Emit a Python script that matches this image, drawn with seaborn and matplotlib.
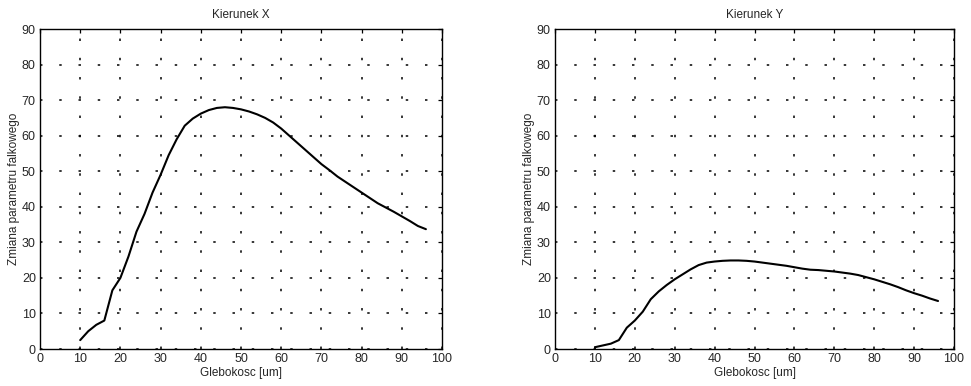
import matplotlib
matplotlib.use("Agg")
import matplotlib.pyplot as plt
import seaborn as sns
import pandas as pd

depth = [10, 12, 14, 16, 18, 20, 22, 24, 26, 28, 30, 32, 34, 36, 38, 40, 42, 44, 46, 48,
         50, 52, 54, 56, 58, 60, 62, 64, 66, 68, 70, 72, 74, 76, 78, 80, 82, 84, 86, 88,
         90, 92, 94, 96]
change_x = [2.5, 5.0, 6.8, 8.0, 16.5, 20.0, 26.0, 33.0, 38.0, 44.0, 49.0, 54.5, 59.0, 62.8, 64.8,
            66.2, 67.2, 67.8, 68.0, 67.8, 67.4, 66.8, 66.0, 65.0, 63.7, 62.0, 60.0, 58.0, 56.0, 54.0,
            52.0, 50.3, 48.5, 47.0, 45.5, 44.0, 42.5, 41.0, 39.8, 38.6, 37.3, 36.0, 34.6, 33.7]
change_y = [0.5, 1.0, 1.5, 2.5, 6.0, 8.0, 10.5, 14.0, 16.2, 18.0, 19.6, 21.0, 22.4, 23.6, 24.3,
            24.6, 24.8, 24.9, 24.9, 24.8, 24.6, 24.3, 24.0, 23.7, 23.4, 23.0, 22.6, 22.3, 22.2, 22.0,
            21.8, 21.5, 21.2, 20.8, 20.2, 19.6, 18.9, 18.2, 17.4, 16.5, 15.7, 15.0, 14.2, 13.5]
titles = ["Kierunek X", "Kierunek Y"]
xlabel = "Glebokosc [um]"
ylabel = "Zmiana parametru falkowego"
xticks = list(range(0, 101, 10))
yticks = list(range(0, 91, 10))

sns.set_theme(style="white")
plt.rcParams["font.family"] = ["Liberation Sans", "DejaVu Sans"]

fig = plt.figure(figsize=(9.71, 3.86), dpi=100)
positions = [[40 / 971, 1 - 349 / 386, 402 / 971, 320 / 386],
             [555 / 971, 1 - 349 / 386, 399 / 971, 320 / 386]]

for pos, title, vals in zip(positions, titles, [change_x, change_y]):
    ax = fig.add_axes(pos)
    df = pd.DataFrame({"depth": depth, "val": vals})
    sns.lineplot(data=df, x="depth", y="val", ax=ax, color="black", linewidth=1.5)
    ax.set_xlim(0, 100)
    ax.set_ylim(0, 90)
    ax.set_xticks(xticks)
    ax.set_yticks(yticks)
    ax.grid(True, color="black", linestyle=(0, (1.6, 11)), linewidth=1.1)
    ax.tick_params(direction="in", length=3, top=True, right=True, labelsize=9,
                   color="black", pad=3, width=0.9)
    for s in ax.spines.values():
        s.set_color("black")
        s.set_linewidth(1.0)
    ax.set_title(title, fontsize=8.5, pad=8)
    ax.set_xlabel(xlabel, fontsize=8.5, labelpad=1)
    ax.set_ylabel(ylabel, fontsize=8.5, labelpad=1)

fig.savefig("out.png", dpi=100, facecolor="white")
